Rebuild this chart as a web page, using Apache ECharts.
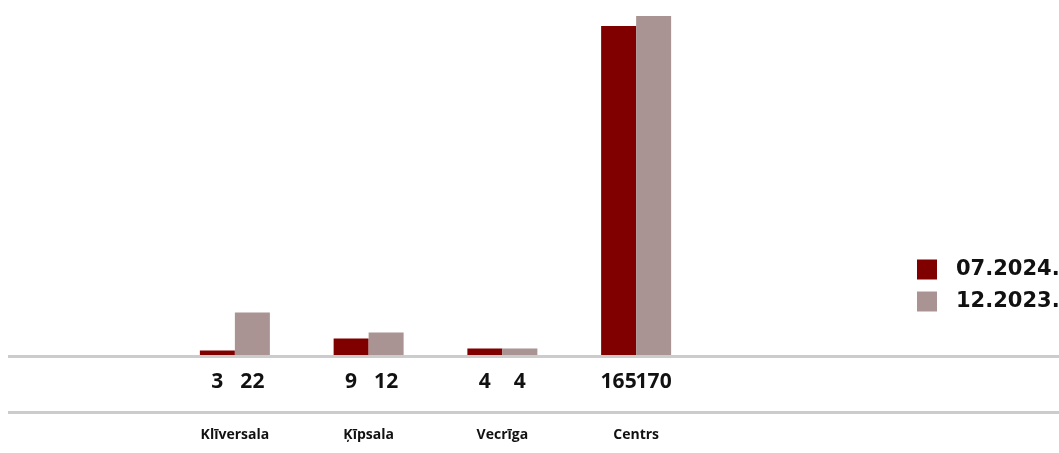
<!DOCTYPE html>
<html>
<head>
<meta charset="utf-8">
<script src="https://cdn.jsdelivr.net/npm/echarts@6/dist/echarts.min.js"></script>
<style>
  html, body { margin: 0; padding: 0; background: #fff; }
  #chart { width: 1059px; height: 453px; }
</style>
</head>
<body>
<div id="chart"></div>
<script>
// dati
var categories = ['Klīversala', 'Ķīpsala', 'Vecrīga', 'Centrs'];
var seriesNames = ['07.2024.', '12.2023.'];
var values2024 = [3, 9, 4, 165];
var values2023 = [22, 12, 4, 170];

var fontFam = '"Open Sans", "DejaVu Sans", sans-serif';

function barLabel() {
	return {
		show: true,
		position: 'bottom',
		distance: 15,
		color: '#111',
		fontFamily: fontFam,
		fontWeight: 'bold',
		fontSize: 21
	};
}

var option = {
	animation: false,
	color: ['#800000', '#aa9493'],
	grid: {
		left: 168,
		right: 356,
		top: 16,
		bottom: 96.5
	},
	legend: {
		orient: 'vertical',
		left: 917,
		top: 259,
		padding: 0,
		itemWidth: 20,
		itemHeight: 20,
		itemGap: 11,
		icon: 'rect',
		data: seriesNames,
		textStyle: {
			fontFamily: '"DejaVu Sans", sans-serif',
			fontWeight: 'bold',
			fontSize: 21,
			color: '#111',
			padding: [0, 0, 0, 14]
		}
	},
	xAxis: {
		type: 'category',
		data: categories,
		axisLine: { show: false },
		axisTick: { show: false },
		axisLabel: {
			margin: 72,
			color: '#111',
			fontFamily: fontFam,
			fontWeight: 'bold',
			fontSize: 14
		}
	},
	yAxis: {
		type: 'value',
		min: 0,
		max: 170,
		show: false,
		splitLine: { show: false }
	},
	graphic: [
		{
			type: 'line',
			shape: { x1: 8, y1: 356.5, x2: 1059, y2: 356.5 },
			style: { stroke: '#cccccc', lineWidth: 3 },
			z: 10
		},
		{
			type: 'line',
			shape: { x1: 8, y1: 412.5, x2: 1059, y2: 412.5 },
			style: { stroke: '#cccccc', lineWidth: 3 }
		}
	],
	series: [
		{
			name: seriesNames[0],
			type: 'bar',
			barWidth: 35,
			barGap: '0%',
			label: barLabel(),
			data: values2024
		},
		{
			name: seriesNames[1],
			type: 'bar',
			barWidth: 35,
			barGap: '0%',
			label: barLabel(),
			data: values2023
		}
	]
};

// 初始化
var myChart = echarts.init(document.getElementById('chart'));
myChart.setOption(option);
</script>
</body>
</html>
